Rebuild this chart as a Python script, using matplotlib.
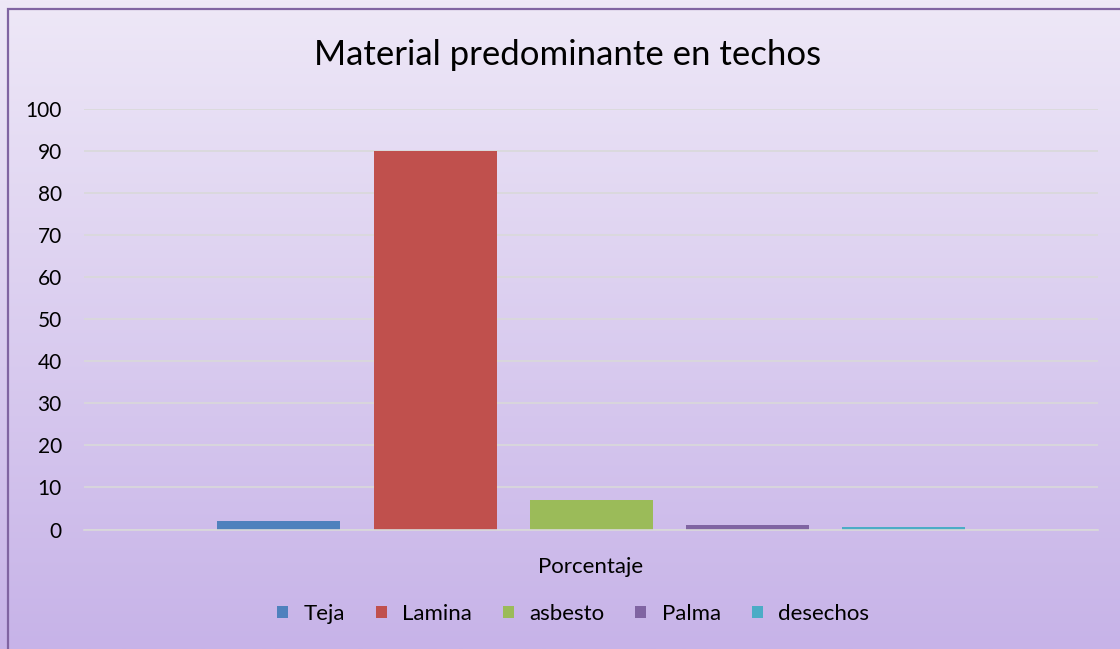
import numpy as np
import matplotlib
matplotlib.use("Agg")
import matplotlib.pyplot as plt
from matplotlib.patches import Rectangle

# data
categories = ["Teja", "Lamina", "asbesto", "Palma", "desechos"]
values = [2, 90, 7, 1, 0.5]
colors = ["#4F81BD", "#C0504D", "#9BBB59", "#8064A2", "#4BACC6"]
group_label = "Porcentaje"
title = "Material predominante en techos"
yticks = list(range(0, 101, 10))

plt.rcParams['font.family'] = ['Lato', 'DejaVu Sans']

W, H = 1120, 649
fig = plt.figure(figsize=(W/100, H/100), dpi=100)

# gradient background
bg = fig.add_axes([0, 0, 1, 1])
top = np.array([238, 232, 247]) / 255.0
bot = np.array([199, 179, 232]) / 255.0
t = np.linspace(0, 1, 256)[:, None]
grad = top[None, :] * (1 - t) + bot[None, :] * t
bg.imshow(grad[:, None, :], aspect='auto', extent=[0, 1, 0, 1], origin='upper')
bg.set_xlim(0, 1)
bg.set_ylim(0, 1)
bg.axis('off')
# chart border
bg.add_patch(Rectangle((8/W, -0.1), 1.2, 1 - 9/H + 0.1, fill=False,
                       edgecolor="#8064A2", linewidth=1.6))

ax = fig.add_axes([84/W, 1 - 529.5/H, (1098-84)/W, (529.5-109)/H])
ax.patch.set_alpha(0)

n = len(categories)
step = 156/1014
width = 123/1014
for i, (c, v, col) in enumerate(zip(categories, values, colors)):
    x = (i - (n-1)/2) * step
    ax.bar(x, v, width=width, color=col, label=c, zorder=3)

ax.set_xlim(-0.5, 0.5)
ax.set_ylim(0, 100)
ax.set_yticks(yticks)
ax.set_yticklabels([str(v) for v in yticks], fontsize=15)
ax.set_xticks([0])
ax.set_xticklabels([group_label], fontsize=16)
ax.tick_params(axis='y', length=0, pad=16)
ax.tick_params(axis='x', length=0, pad=20)
ax.yaxis.grid(True, color="#D9D9D9", linewidth=1.2, zorder=0)
for s in ["top", "right", "left"]:
    ax.spines[s].set_visible(False)
ax.spines["bottom"].set_color("#D9D9D9")
ax.spines["bottom"].set_linewidth(1.2)
ax.spines["bottom"].set_zorder(4)

fig.text(568/W, 1 - 55/H, title, fontsize=25, ha='center', va='center')

fig.legend(loc='center', bbox_to_anchor=(573/W, 1 - 614/H), ncol=5,
           frameon=False, fontsize=16, handlelength=0.5, handleheight=0.5,
           columnspacing=1.38, handletextpad=0.7)

fig.savefig("out.png", dpi=100)
